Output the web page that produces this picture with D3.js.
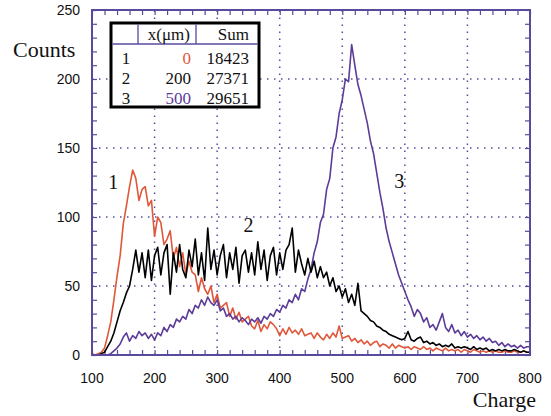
<!DOCTYPE html>
<html>
<head>
    <meta charset="utf-8">
    <title>Charge spectra</title>
    <style>
        body { margin: 0; background: #fff; }
        svg { display: block; }
        .tick-label { font-family: "Liberation Sans", Arial, sans-serif; font-size: 14px; fill: #111; }
        .serif { font-family: "Liberation Serif", "Times New Roman", serif; fill: #111; }
    </style>
    <script src="https://d3js.org/d3.v7.min.js"></script>
</head>
<body>
<svg id="chart"></svg>
<script>
    // charge bins (every 5 units) and counts
    const charge = d3.range(100, 801, 5);

    const counts1 = [
        1, 0, 1, 2, 5, 14, 24, 40, 57, 72, 95, 108, 122, 134, 128, 112, 120, 122, 108, 112,
        86, 100, 96, 80, 84, 90, 70, 78, 64, 74, 58, 68, 60, 58, 46, 56, 48, 44, 50, 38,
        44, 34, 36, 38, 28, 34, 26, 31, 24, 26, 28, 21, 19, 25, 17, 22, 19, 24, 22, 19,
        14, 19, 15, 20, 16, 18, 15, 19, 14, 15, 16, 12, 16, 13, 11, 15, 12, 16, 13, 21,
        12, 13, 14, 10, 12, 9, 11, 8, 10, 7, 9, 10, 6, 8, 7, 5, 8, 5, 7, 6,
        5, 6, 4, 6, 5, 4, 6, 4, 5, 3, 5, 4, 3, 5, 3, 4, 3, 4, 2, 4,
        3, 2, 4, 3, 2, 3, 2, 3, 2, 3, 2, 2, 3, 2, 2, 3, 2, 2, 3, 2, 2
    ];

    const counts2 = [
        0, 0, 0, 1, 2, 6, 10, 16, 24, 32, 38, 45, 50, 62, 76, 60, 74, 56, 76, 54,
        72, 78, 58, 74, 80, 44, 74, 60, 80, 62, 56, 76, 64, 84, 58, 74, 54, 92, 62, 76,
        58, 72, 80, 56, 74, 62, 78, 52, 72, 76, 60, 74, 58, 82, 62, 76, 54, 72, 78, 58,
        74, 62, 76, 80, 92, 60, 76, 66, 58, 70, 60, 68, 56, 64, 56, 60, 50, 56, 46, 50,
        42, 48, 38, 44, 36, 52, 32, 30, 28, 25, 24, 21, 20, 18, 17, 15, 14, 13, 12, 11,
        12, 17, 11, 10, 12, 13, 9, 10, 8, 9, 7, 8, 6, 7, 6, 8, 5, 6, 5, 6,
        5, 4, 6, 4, 5, 4, 5, 3, 4, 3, 4, 3, 4, 3, 3, 4, 3, 2, 3, 2, 2
    ];

    const counts3 = [
        0, 0, 0, 0, 0, 0, 1, 3, 5, 8, 13, 16, 10, 14, 12, 17, 14, 16, 12, 15,
        11, 16, 14, 20, 17, 22, 20, 26, 24, 28, 26, 33, 30, 36, 34, 40, 36, 42, 38, 36,
        40, 32, 34, 28, 30, 26, 28, 24, 27, 25, 22, 26, 24, 27, 23, 28, 26, 30, 28, 33,
        31, 36, 34, 40, 38, 44, 40, 48, 46, 55, 62, 74, 82, 96, 102, 120, 128, 150, 158, 175,
        185, 200, 198, 225, 210, 196, 188, 178, 168, 155, 146, 132, 118, 106, 92, 82, 74, 66, 58, 52,
        46, 40, 35, 28, 33, 30, 24, 27, 20, 22, 18, 24, 30, 20, 17, 22, 16, 18, 14, 17,
        13, 15, 12, 14, 11, 13, 10, 12, 9, 10, 7, 9, 6, 8, 6, 7, 5, 7, 5, 6, 6
    ];

    // table in the upper left
    const tableRows = ['1', '2', '3'];
    const positions = ['0', '200', '500'];
    const sums = ['18423', '27371', '29651'];

    const xTicks = [100, 200, 300, 400, 500, 600, 700, 800];
    const yTicks = [0, 50, 100, 150, 200, 250];

    const COLORS = {
        AXIS: '#5a4a9c',
        RED: '#e0583a',
        BLACK: '#000',
        PURPLE: '#5b3c98'
    };

    const width = 551;
    const height = 416;
    const margin = {top: 10, right: 21, bottom: 61, left: 92};

    const svg = d3.select('#chart').attr('width', width).attr('height', height);

    const x = d3.scaleLinear().domain([100, 800]).range([margin.left, width - margin.right]);
    const y = d3.scaleLinear().domain([0, 250]).range([height - margin.bottom, margin.top]);

    // dotted grid
    svg.append('g')
        .selectAll('line')
        .data(xTicks.slice(1, -1))
        .join('line')
        .attr('x1', d => x(d)).attr('x2', d => x(d))
        .attr('y1', y(0)).attr('y2', y(250))
        .attr('stroke', COLORS.AXIS).attr('stroke-width', 1.5)
        .attr('stroke-dasharray', '1.5,5.5');

    svg.append('g')
        .selectAll('line')
        .data(yTicks.slice(1, -1))
        .join('line')
        .attr('x1', x(100)).attr('x2', x(800))
        .attr('y1', d => y(d)).attr('y2', d => y(d))
        .attr('stroke', COLORS.AXIS).attr('stroke-width', 1.5)
        .attr('stroke-dasharray', '1.5,5.5');

    // axes, ticks pointing inward on all four sides
    const xMinor = d3.range(100, 801, 20);
    const yMinor = d3.range(0, 251, 10);

    function styleAxis(g) {
        g.select('.domain').remove();
        g.selectAll('line').attr('stroke', COLORS.AXIS).attr('stroke-width', 1.2);
    }

    svg.append('g').attr('transform', `translate(0,${y(0)})`)
        .call(d3.axisTop(x).tickValues(xMinor).tickSize(5).tickFormat(''))
        .call(styleAxis);
    svg.append('g').attr('transform', `translate(0,${y(250)})`)
        .call(d3.axisBottom(x).tickValues(xMinor).tickSize(5).tickFormat(''))
        .call(styleAxis);
    svg.append('g').attr('transform', `translate(${x(100)},0)`)
        .call(d3.axisRight(y).tickValues(yMinor).tickSize(5).tickFormat(''))
        .call(styleAxis);
    svg.append('g').attr('transform', `translate(${x(800)},0)`)
        .call(d3.axisLeft(y).tickValues(yMinor).tickSize(5).tickFormat(''))
        .call(styleAxis);

    // major tick labels
    svg.append('g')
        .selectAll('text')
        .data(xTicks)
        .join('text')
        .attr('class', 'tick-label')
        .attr('x', d => x(d))
        .attr('y', y(0) + 28)
        .attr('text-anchor', 'middle')
        .text(d => d);

    svg.append('g')
        .selectAll('text')
        .data(yTicks)
        .join('text')
        .attr('class', 'tick-label')
        .attr('x', x(100) - 12)
        .attr('y', d => y(d) + 5)
        .attr('text-anchor', 'end')
        .text(d => d);

    // the spectra
    const line = d3.line()
        .x((d, i) => x(charge[i]))
        .y(d => y(d));

    [[counts1, COLORS.RED], [counts3, COLORS.PURPLE], [counts2, COLORS.BLACK]].forEach(([values, color]) => {
        svg.append('path')
            .datum(values)
            .attr('fill', 'none')
            .attr('stroke', color)
            .attr('stroke-width', 1.6)
            .attr('stroke-linejoin', 'round')
            .attr('d', line);
    });

    // frame on top
    svg.append('rect')
        .attr('x', x(100)).attr('y', y(250))
        .attr('width', x(800) - x(100)).attr('height', y(0) - y(250))
        .attr('fill', 'none').attr('stroke', COLORS.AXIS).attr('stroke-width', 2);

    // curve labels
    const curveLabels = [
        {text: '1', at: [134, 120]},
        {text: '2', at: [350, 89]},
        {text: '3', at: [591, 121]}
    ];
    svg.append('g')
        .selectAll('text')
        .data(curveLabels)
        .join('text')
        .attr('class', 'serif')
        .attr('font-size', 20)
        .attr('text-anchor', 'middle')
        .attr('x', d => x(d.at[0]))
        .attr('y', d => y(d.at[1]))
        .text(d => d.text);

    // axis titles
    svg.append('text').attr('class', 'serif').attr('font-size', 22)
        .attr('x', 13).attr('y', 57).text('Counts');
    svg.append('text').attr('class', 'serif').attr('font-size', 22)
        .attr('x', 536).attr('y', 407).attr('text-anchor', 'end').text('Charge');

    // table
    const tb = {x: 111, y: 23, w: 148, h: 84, head: 21, c1: 138, c2: 196};
    const table = svg.append('g');
    table.append('rect')
        .attr('x', tb.x).attr('y', tb.y).attr('width', tb.w).attr('height', tb.h)
        .attr('fill', '#fff').attr('stroke', '#000').attr('stroke-width', 3);
    table.append('line')
        .attr('x1', tb.x + 1.5).attr('x2', tb.x + tb.w - 1.5)
        .attr('y1', tb.y + tb.head).attr('y2', tb.y + tb.head)
        .attr('stroke', COLORS.AXIS).attr('stroke-width', 1.3);
    [tb.c1, tb.c2].forEach(cx => {
        table.append('line')
            .attr('x1', cx).attr('x2', cx)
            .attr('y1', tb.y + 1.5).attr('y2', tb.y + tb.head)
            .attr('stroke', COLORS.AXIS).attr('stroke-width', 1.3);
    });

    table.append('text').attr('class', 'serif').attr('font-size', 17)
        .attr('x', 190).attr('y', tb.y + 17).attr('text-anchor', 'end').text('x(\u03bcm)');
    table.append('text').attr('class', 'serif').attr('font-size', 17)
        .attr('x', 249).attr('y', tb.y + 17).attr('text-anchor', 'end').text('Sum');

    const rowColors = [COLORS.RED, '#111', COLORS.PURPLE];
    tableRows.forEach((r, i) => {
        const by = 64 + i * 20;
        table.append('text').attr('class', 'serif').attr('font-size', 17)
            .attr('x', 126).attr('y', by).attr('text-anchor', 'middle').text(r);
        table.append('text').attr('class', 'serif').attr('font-size', 17)
            .attr('x', 191).attr('y', by).attr('text-anchor', 'end')
            .style('fill', rowColors[i]).text(positions[i]);
        table.append('text').attr('class', 'serif').attr('font-size', 17)
            .attr('x', 249).attr('y', by).attr('text-anchor', 'end').text(sums[i]);
    });
</script>
</body>
</html>
